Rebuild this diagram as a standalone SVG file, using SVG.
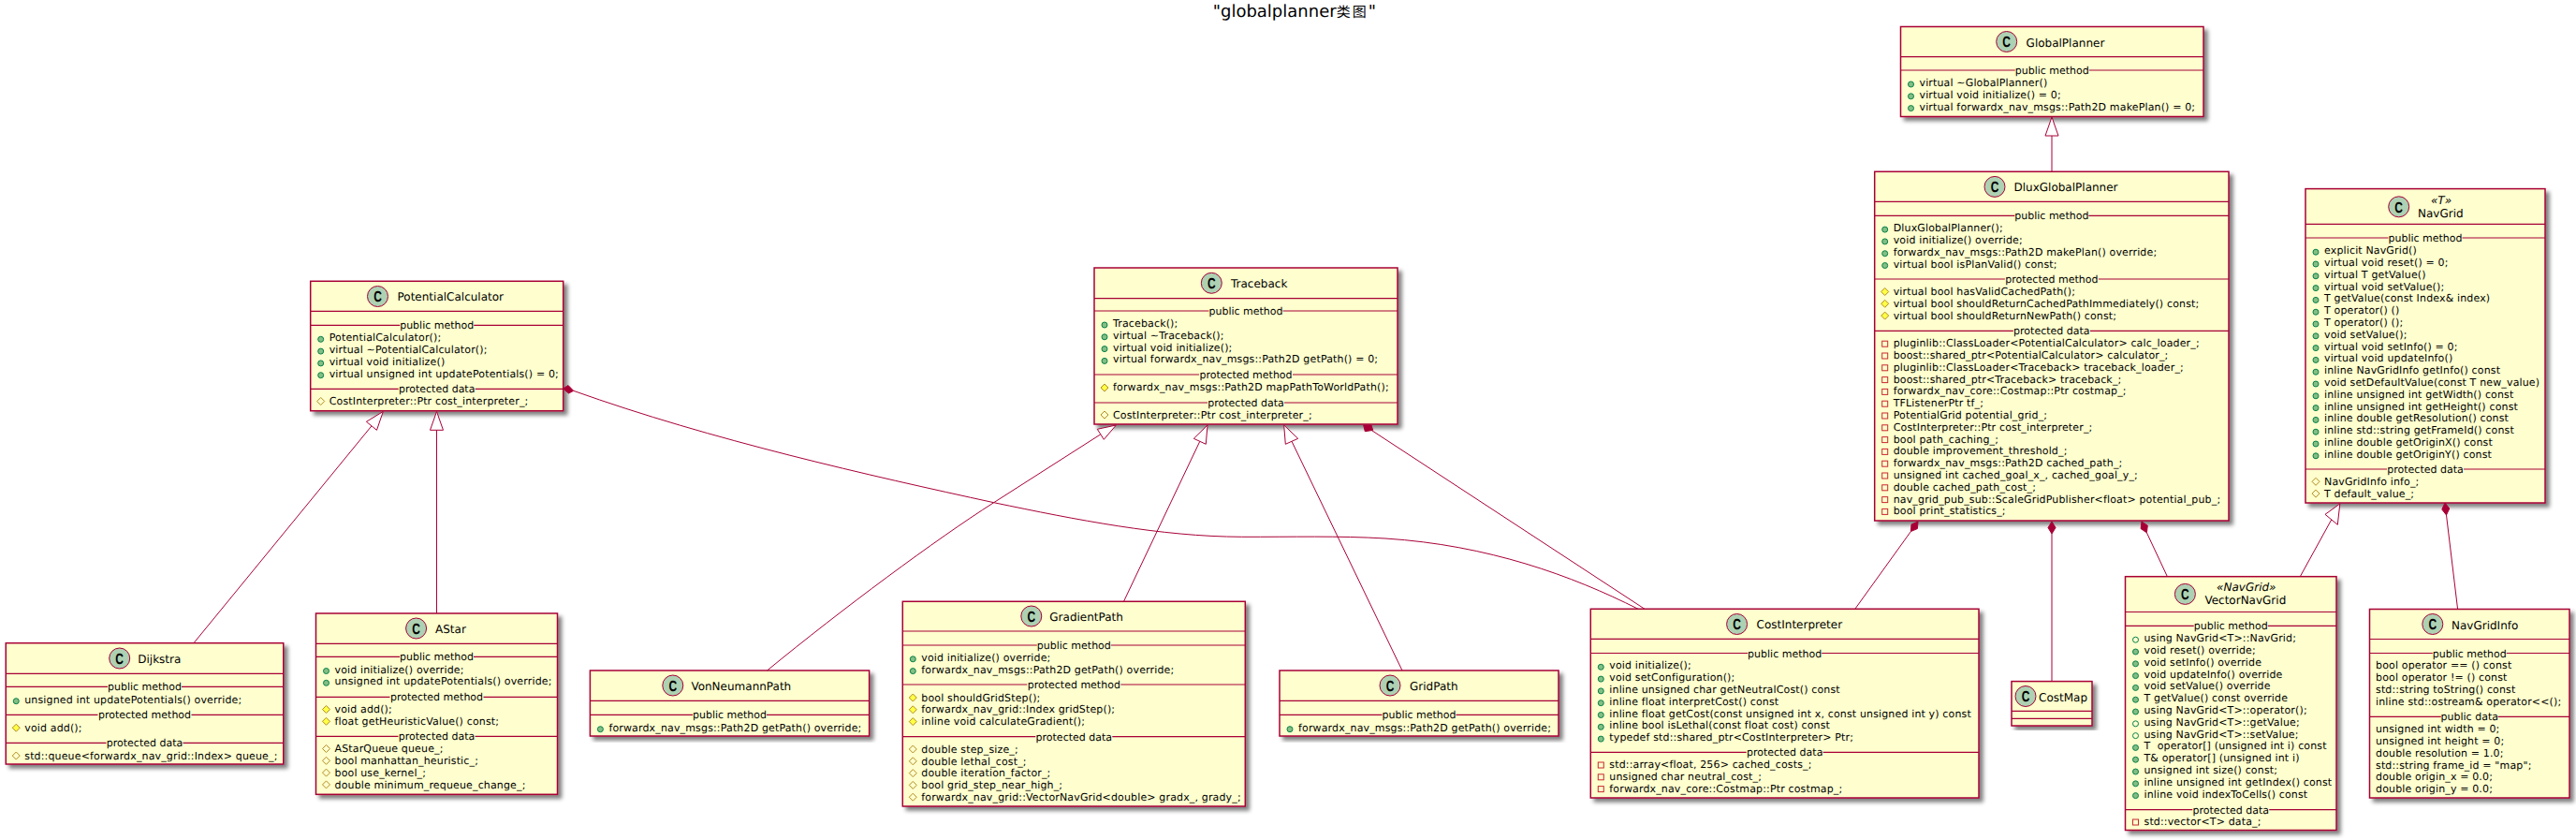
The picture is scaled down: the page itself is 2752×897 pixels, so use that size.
<svg xmlns="http://www.w3.org/2000/svg" width="2752" height="897" viewBox="0 0 2752 897">
<style>
text{font-family:"DejaVu Sans","Noto Sans CJK SC",sans-serif;fill:#000;text-rendering:geometricPrecision}
.m{font-size:11px;letter-spacing:.15px}
.c{font-size:11px;text-anchor:middle}
.t{font-size:12px}
.st{font-size:12px;font-style:italic;text-anchor:middle}
.b{fill:#FEFECE;stroke:#A80036;stroke-width:1.5;filter:url(#sh)}
.d{fill:none;stroke:#A80036;stroke-width:1.2}
.l{fill:none;stroke:#A80036;stroke-width:1}
.e{fill:#fff;stroke:#A80036;stroke-width:1}
.f{fill:#A80036;stroke:#A80036;stroke-width:1}
</style>
<defs>
<filter id="sh" x="-10%" y="-10%" width="120%" height="120%"><feGaussianBlur result="bl" stdDeviation="2"/><feColorMatrix type="matrix" values="0 0 0 0 0 0 0 0 0 0 0 0 0 0 0 0 0 0 .5 0"/><feOffset dx="4" dy="4"/><feBlend in="SourceGraphic"/></filter>
<g id="spot"><circle r="11" fill="#ADD1B2" stroke="#A80036" stroke-width="1"/><text transform="scale(.75,1)" y="5.8" font-size="16" font-weight="bold" text-anchor="middle" style="font-family:'Liberation Sans',sans-serif">C</text></g>
<circle id="pu" r="3" fill="#84BE84" stroke="#038048"/>
<circle id="po" r="3" fill="none" stroke="#038048"/>
<polygon id="pm" points="0,-4 4,0 0,4 -4,0" fill="#FFFF44" stroke="#B38D22"/>
<polygon id="pd" points="0,-4 4,0 0,4 -4,0" fill="none" stroke="#B38D22"/>
<rect id="pv" x="-3" y="-3" width="6" height="6" fill="none" stroke="#C82930"/>
</defs>
<rect width="2752" height="897" fill="#fff"/>
<text x="1295.7" y="17.5" font-size="18">"globalplanner<tspan font-size="15" letter-spacing="2">类图</tspan>"</text>

<g id="potentialcalculator" transform="translate(331.7 0)">
<rect class="b" y="300.3" width="270" height="138.4"/>
<path class="d" d="M0 332.3H270M0 347.3H95.5M174.5 347.3H270M0 415.3H94M176 415.3H270"/>
<use href="#spot" x="71.8" y="316.5"/><text class="t" x="92.8" y="321.3">PotentialCalculator</text>
<text class="c" x="135" y="351.3">public method</text>
<use href="#pu" x="11" y="362.3"/><text class="m" x="20" y="364.3">PotentialCalculator();</text>
<use href="#pu" x="11" y="375.1"/><text class="m" x="20" y="377.1">virtual ~PotentialCalculator();</text>
<use href="#pu" x="11" y="387.9"/><text class="m" x="20" y="389.9">virtual void initialize()</text>
<use href="#pu" x="11" y="400.7"/><text class="m" x="20" y="402.7">virtual unsigned int updatePotentials() = 0;</text>
<text class="c" x="135" y="419.3">protected data</text>
<use href="#pd" x="11" y="428.5"/><text class="m" x="20" y="432.3">CostInterpreter::Ptr cost_interpreter_;</text>
</g>

<g id="dijkstra" transform="translate(6.25 0)">
<rect class="b" y="686.7" width="296.5" height="129.3"/>
<path class="d" d="M0 719.3H296.5M0 733.3H108.75M187.75 733.3H296.5M0 763.3H98.25M198.25 763.3H296.5M0 793.3H107.25M189.25 793.3H296.5"/>
<use href="#spot" x="121.45" y="703"/><text class="t" x="141" y="707.7">Dijkstra</text>
<text class="c" x="148.25" y="737.3">public method</text>
<use href="#pu" x="11" y="748.7"/><text class="m" x="20" y="750.7">unsigned int updatePotentials() override;</text>
<text class="c" x="148.25" y="767.3">protected method</text>
<use href="#pm" x="11" y="777.2"/><text class="m" x="20" y="780.7">void add();</text>
<text class="c" x="148.25" y="797.3">protected data</text>
<use href="#pd" x="11" y="807"/><text class="m" x="20" y="810.7">std::queue&lt;forwardx_nav_grid::Index&gt; queue_;</text>
</g>

<g id="astar" transform="translate(337.5 0)">
<rect class="b" y="655" width="258" height="193.3"/>
<path class="d" d="M0 687.3H258M0 701.3H89.5M168.5 701.3H258M0 744.3H79M179 744.3H258M0 786.3H88M170 786.3H258"/>
<use href="#spot" x="107.1" y="671"/><text class="t" x="127.5" y="676">AStar</text>
<text class="c" x="129" y="705.3">public method</text>
<use href="#pu" x="11" y="716.5"/><text class="m" x="20" y="718.5">void initialize() override;</text>
<use href="#pu" x="11" y="729.3"/><text class="m" x="20" y="731.3">unsigned int updatePotentials() override;</text>
<text class="c" x="129" y="748.3">protected method</text>
<use href="#pm" x="11" y="757.5"/><text class="m" x="20" y="761">void add();</text>
<use href="#pm" x="11" y="770.3"/><text class="m" x="20" y="773.8">float getHeuristicValue() const;</text>
<text class="c" x="129" y="790.3">protected data</text>
<use href="#pd" x="11" y="799.5"/><text class="m" x="20" y="803.3">AStarQueue queue_;</text>
<use href="#pd" x="11" y="812.3"/><text class="m" x="20" y="816.1">bool manhattan_heuristic_;</text>
<use href="#pd" x="11" y="825.1"/><text class="m" x="20" y="828.9">bool use_kernel_;</text>
<use href="#pd" x="11" y="837.9"/><text class="m" x="20" y="841.7">double minimum_requeue_change_;</text>
</g>

<g id="traceback" transform="translate(1169 0)">
<rect class="b" y="286" width="324" height="167"/>
<path class="d" d="M0 318.7H324M0 332H122.5M201.5 332H324M0 400H112M212 400H324M0 430H121M203 430H324"/>
<use href="#spot" x="125.3" y="302.3"/><text class="t" x="146" y="307">Traceback</text>
<text class="c" x="162" y="336">public method</text>
<use href="#pu" x="11" y="347"/><text class="m" x="20" y="349">Traceback();</text>
<use href="#pu" x="11" y="359.8"/><text class="m" x="20" y="361.8">virtual ~Traceback();</text>
<use href="#pu" x="11" y="372.6"/><text class="m" x="20" y="374.6">virtual void initialize();</text>
<use href="#pu" x="11" y="385.4"/><text class="m" x="20" y="387.4">virtual forwardx_nav_msgs::Path2D getPath() = 0;</text>
<text class="c" x="162" y="404">protected method</text>
<use href="#pm" x="11" y="414"/><text class="m" x="20" y="417.2">forwardx_nav_msgs::Path2D mapPathToWorldPath();</text>
<text class="c" x="162" y="434">protected data</text>
<use href="#pd" x="11" y="443"/><text class="m" x="20" y="447">CostInterpreter::Ptr cost_interpreter_;</text>
</g>

<g id="vonneumannpath" transform="translate(630.4 0)">
<rect class="b" y="716" width="298.2" height="70"/>
<path class="d" d="M0 748.3H298.2M0 763.3H109.6M188.6 763.3H298.2"/>
<use href="#spot" x="88.4" y="732"/><text class="t" x="108" y="737">VonNeumannPath</text>
<text class="c" x="149.1" y="767.3">public method</text>
<use href="#pu" x="11" y="778.7"/><text class="m" x="20" y="780.7">forwardx_nav_msgs::Path2D getPath() override;</text>
</g>

<g id="gradientpath" transform="translate(964.3 0)">
<rect class="b" y="642.3" width="366" height="218.7"/>
<path class="d" d="M0 674H366M0 689H143.5M222.5 689H366M0 731H133M233 731H366M0 786.7H142M224 786.7H366"/>
<use href="#spot" x="137.5" y="658"/><text class="t" x="157" y="663">GradientPath</text>
<text class="c" x="183" y="693">public method</text>
<use href="#pu" x="11" y="703.8"/><text class="m" x="20" y="705.8">void initialize() override;</text>
<use href="#pu" x="11" y="716.6"/><text class="m" x="20" y="718.6">forwardx_nav_msgs::Path2D getPath() override;</text>
<text class="c" x="183" y="735">protected method</text>
<use href="#pm" x="11" y="745"/><text class="m" x="20" y="748.5">bool shouldGridStep();</text>
<use href="#pm" x="11" y="757.8"/><text class="m" x="20" y="761.3">forwardx_nav_grid::Index gridStep();</text>
<use href="#pm" x="11" y="770.6"/><text class="m" x="20" y="774.1">inline void calculateGradient();</text>
<text class="c" x="183" y="790.7">protected data</text>
<use href="#pd" x="11" y="800"/><text class="m" x="20" y="803.8">double step_size_;</text>
<use href="#pd" x="11" y="812.8"/><text class="m" x="20" y="816.6">double lethal_cost_;</text>
<use href="#pd" x="11" y="825.6"/><text class="m" x="20" y="829.4">double iteration_factor_;</text>
<use href="#pd" x="11" y="838.4"/><text class="m" x="20" y="842.2">bool grid_step_near_high_;</text>
<use href="#pd" x="11" y="851.2"/><text class="m" x="20" y="855">forwardx_nav_grid::VectorNavGrid&lt;double&gt; gradx_, grady_;</text>
</g>

<g id="gridpath" transform="translate(1367 0)">
<rect class="b" y="716" width="298" height="70"/>
<path class="d" d="M0 748.3H298M0 763.3H109.5M188.5 763.3H298"/>
<use href="#spot" x="118" y="732"/><text class="t" x="139" y="737">GridPath</text>
<text class="c" x="149" y="767.3">public method</text>
<use href="#pu" x="11" y="778.7"/><text class="m" x="20" y="780.7">forwardx_nav_msgs::Path2D getPath() override;</text>
</g>

<g id="costinterpreter" transform="translate(1699.3 0)">
<rect class="b" y="650.3" width="414.7" height="201.7"/>
<path class="d" d="M0 682.3H414.7M0 697.5H167.85M246.85 697.5H414.7M0 803.3H166.35M248.35 803.3H414.7"/>
<use href="#spot" x="156.3" y="666.5"/><text class="t" x="177.3" y="671.3">CostInterpreter</text>
<text class="c" x="207.35" y="701.5">public method</text>
<use href="#pu" x="11" y="712.3"/><text class="m" x="20" y="714.3">void initialize();</text>
<use href="#pu" x="11" y="725.1"/><text class="m" x="20" y="727.1">void setConfiguration();</text>
<use href="#pu" x="11" y="737.9"/><text class="m" x="20" y="739.9">inline unsigned char getNeutralCost() const</text>
<use href="#pu" x="11" y="750.7"/><text class="m" x="20" y="752.7">inline float interpretCost() const</text>
<use href="#pu" x="11" y="763.5"/><text class="m" x="20" y="765.5">inline float getCost(const unsigned int x, const unsigned int y) const</text>
<use href="#pu" x="11" y="776.3"/><text class="m" x="20" y="778.3">inline bool isLethal(const float cost) const</text>
<use href="#pu" x="11" y="789.1"/><text class="m" x="20" y="791.1">typedef std::shared_ptr&lt;CostInterpreter&gt; Ptr;</text>
<text class="c" x="207.35" y="807.3">protected data</text>
<use href="#pv" x="11" y="817"/><text class="m" x="20" y="820">std::array&lt;float, 256&gt; cached_costs_;</text>
<use href="#pv" x="11" y="829.8"/><text class="m" x="20" y="832.8">unsigned char neutral_cost_;</text>
<use href="#pv" x="11" y="842.6"/><text class="m" x="20" y="845.6">forwardx_nav_core::Costmap::Ptr costmap_;</text>
</g>

<g id="costmap" transform="translate(2149 0)">
<rect class="b" y="727.6" width="86" height="47.4"/>
<path class="d" d="M0 759.4H86M0 767.3H86"/>
<use href="#spot" x="15" y="743.5"/><text class="t" x="29" y="748.5">CostMap</text>
</g>

<g id="globalplanner" transform="translate(2030.5 0)">
<rect class="b" y="28.5" width="323.5" height="96"/>
<path class="d" d="M0 60.7H323.5M0 75H122.25M201.25 75H323.5"/>
<use href="#spot" x="113.2" y="44.5"/><text class="t" x="134.1" y="49.5">GlobalPlanner</text>
<text class="c" x="161.75" y="79">public method</text>
<use href="#pu" x="11" y="90"/><text class="m" x="20" y="92">virtual ~GlobalPlanner()</text>
<use href="#pu" x="11" y="102.8"/><text class="m" x="20" y="104.8">virtual void initialize() = 0;</text>
<use href="#pu" x="11" y="115.6"/><text class="m" x="20" y="117.6">virtual forwardx_nav_msgs::Path2D makePlan() = 0;</text>
</g>

<g id="dluxglobalplanner" transform="translate(2002.7 0)">
<rect class="b" y="183.3" width="378.3" height="372.7"/>
<path class="d" d="M0 215.3H378.3M0 230.3H149.65M228.65 230.3H378.3M0 298H139.15M239.15 298H378.3M0 353.3H148.15M230.15 353.3H378.3"/>
<use href="#spot" x="128.3" y="199.4"/><text class="t" x="148.8" y="204.4">DluxGlobalPlanner</text>
<text class="c" x="189.15" y="234.3">public method</text>
<use href="#pu" x="11" y="245.1"/><text class="m" x="20" y="247.1">DluxGlobalPlanner();</text>
<use href="#pu" x="11" y="257.9"/><text class="m" x="20" y="259.9">void initialize() override;</text>
<use href="#pu" x="11" y="270.7"/><text class="m" x="20" y="272.7">forwardx_nav_msgs::Path2D makePlan() override;</text>
<use href="#pu" x="11" y="283.5"/><text class="m" x="20" y="285.5">virtual bool isPlanValid() const;</text>
<text class="c" x="189.15" y="302">protected method</text>
<use href="#pm" x="11" y="311.5"/><text class="m" x="20" y="315">virtual bool hasValidCachedPath();</text>
<use href="#pm" x="11" y="324.3"/><text class="m" x="20" y="327.8">virtual bool shouldReturnCachedPathImmediately() const;</text>
<use href="#pm" x="11" y="337.1"/><text class="m" x="20" y="340.6">virtual bool shouldReturnNewPath() const;</text>
<text class="c" x="189.15" y="357.3">protected data</text>
<use href="#pv" x="11" y="367.2"/><text class="m" x="20" y="370.2">pluginlib::ClassLoader&lt;PotentialCalculator&gt; calc_loader_;</text>
<use href="#pv" x="11" y="380"/><text class="m" x="20" y="383">boost::shared_ptr&lt;PotentialCalculator&gt; calculator_;</text>
<use href="#pv" x="11" y="392.8"/><text class="m" x="20" y="395.8">pluginlib::ClassLoader&lt;Traceback&gt; traceback_loader_;</text>
<use href="#pv" x="11" y="405.6"/><text class="m" x="20" y="408.6">boost::shared_ptr&lt;Traceback&gt; traceback_;</text>
<use href="#pv" x="11" y="418.4"/><text class="m" x="20" y="421.4">forwardx_nav_core::Costmap::Ptr costmap_;</text>
<use href="#pv" x="11" y="431.2"/><text class="m" x="20" y="434.2">TFListenerPtr tf_;</text>
<use href="#pv" x="11" y="444"/><text class="m" x="20" y="447">PotentialGrid potential_grid_;</text>
<use href="#pv" x="11" y="456.8"/><text class="m" x="20" y="459.8">CostInterpreter::Ptr cost_interpreter_;</text>
<use href="#pv" x="11" y="469.6"/><text class="m" x="20" y="472.6">bool path_caching_;</text>
<use href="#pv" x="11" y="482.4"/><text class="m" x="20" y="485.4">double improvement_threshold_;</text>
<use href="#pv" x="11" y="495.2"/><text class="m" x="20" y="498.2">forwardx_nav_msgs::Path2D cached_path_;</text>
<use href="#pv" x="11" y="508"/><text class="m" x="20" y="511">unsigned int cached_goal_x_, cached_goal_y_;</text>
<use href="#pv" x="11" y="520.8"/><text class="m" x="20" y="523.8">double cached_path_cost_;</text>
<use href="#pv" x="11" y="533.6"/><text class="m" x="20" y="536.6">nav_grid_pub_sub::ScaleGridPublisher&lt;float&gt; potential_pub_;</text>
<use href="#pv" x="11" y="546.4"/><text class="m" x="20" y="549.4">bool print_statistics_;</text>
</g>

<g id="navgrid" transform="translate(2463 0)">
<rect class="b" y="201.6" width="256" height="335.4"/>
<path class="d" d="M0 239.4H256M0 254H88.5M167.5 254H256M0 501H87M169 501H256"/>
<use href="#spot" x="99.7" y="220.8"/><text class="st" x="145" y="217.6">«T»</text><text class="t" x="120" y="231.5">NavGrid</text>
<text class="c" x="128" y="258">public method</text>
<use href="#pu" x="11" y="269.2"/><text class="m" x="20" y="271.2">explicit NavGrid()</text>
<use href="#pu" x="11" y="282"/><text class="m" x="20" y="284">virtual void reset() = 0;</text>
<use href="#pu" x="11" y="294.8"/><text class="m" x="20" y="296.8">virtual T getValue()</text>
<use href="#pu" x="11" y="307.6"/><text class="m" x="20" y="309.6">virtual void setValue();</text>
<use href="#pu" x="11" y="320.4"/><text class="m" x="20" y="322.4">T getValue(const Index&amp; index)</text>
<use href="#pu" x="11" y="333.2"/><text class="m" x="20" y="335.2">T operator() ()</text>
<use href="#pu" x="11" y="346"/><text class="m" x="20" y="348">T operator() ();</text>
<use href="#pu" x="11" y="358.8"/><text class="m" x="20" y="360.8">void setValue();</text>
<use href="#pu" x="11" y="371.6"/><text class="m" x="20" y="373.6">virtual void setInfo() = 0;</text>
<use href="#pu" x="11" y="384.4"/><text class="m" x="20" y="386.4">virtual void updateInfo()</text>
<use href="#pu" x="11" y="397.2"/><text class="m" x="20" y="399.2">inline NavGridInfo getInfo() const</text>
<use href="#pu" x="11" y="410"/><text class="m" x="20" y="412">void setDefaultValue(const T new_value)</text>
<use href="#pu" x="11" y="422.8"/><text class="m" x="20" y="424.8">inline unsigned int getWidth() const</text>
<use href="#pu" x="11" y="435.6"/><text class="m" x="20" y="437.6">inline unsigned int getHeight() const</text>
<use href="#pu" x="11" y="448.4"/><text class="m" x="20" y="450.4">inline double getResolution() const</text>
<use href="#pu" x="11" y="461.2"/><text class="m" x="20" y="463.2">inline std::string getFrameId() const</text>
<use href="#pu" x="11" y="474"/><text class="m" x="20" y="476">inline double getOriginX() const</text>
<use href="#pu" x="11" y="486.8"/><text class="m" x="20" y="488.8">inline double getOriginY() const</text>
<text class="c" x="128" y="505">protected data</text>
<use href="#pd" x="11" y="514.3"/><text class="m" x="20" y="518">NavGridInfo info_;</text>
<use href="#pd" x="11" y="527.1"/><text class="m" x="20" y="530.8">T default_value_;</text>
</g>

<g id="vectornavgrid" transform="translate(2270.5 0)">
<rect class="b" y="615.7" width="225.5" height="270.8"/>
<path class="d" d="M0 653.5H225.5M0 668.4H73.25M152.25 668.4H225.5M0 864.7H71.75M153.75 864.7H225.5"/>
<use href="#spot" x="63.9" y="634.4"/><text class="st" x="129.3" y="631">«NavGrid»</text><text class="t" x="84.9" y="645.3">VectorNavGrid</text>
<text class="c" x="112.75" y="672.4">public method</text>
<use href="#po" x="11" y="683.2"/><text class="m" x="20" y="685.2">using NavGrid&lt;T&gt;::NavGrid;</text>
<use href="#pu" x="11" y="696"/><text class="m" x="20" y="698">void reset() override;</text>
<use href="#pu" x="11" y="708.8"/><text class="m" x="20" y="710.8">void setInfo() override</text>
<use href="#pu" x="11" y="721.6"/><text class="m" x="20" y="723.6">void updateInfo() override</text>
<use href="#pu" x="11" y="734.4"/><text class="m" x="20" y="736.4">void setValue() override</text>
<use href="#pu" x="11" y="747.2"/><text class="m" x="20" y="749.2">T getValue() const override</text>
<use href="#pu" x="11" y="760"/><text class="m" x="20" y="762">using NavGrid&lt;T&gt;::operator();</text>
<use href="#po" x="11" y="772.8"/><text class="m" x="20" y="774.8">using NavGrid&lt;T&gt;::getValue;</text>
<use href="#po" x="11" y="785.6"/><text class="m" x="20" y="787.6">using NavGrid&lt;T&gt;::setValue;</text>
<use href="#pu" x="11" y="798.4"/><text class="m" x="20" y="800.4" xml:space="preserve">T  operator[] (unsigned int i) const</text>
<use href="#pu" x="11" y="811.2"/><text class="m" x="20" y="813.2">T&amp; operator[] (unsigned int i)</text>
<use href="#pu" x="11" y="824"/><text class="m" x="20" y="826">unsigned int size() const;</text>
<use href="#pu" x="11" y="836.8"/><text class="m" x="20" y="838.8">inline unsigned int getIndex() const</text>
<use href="#pu" x="11" y="849.6"/><text class="m" x="20" y="851.6">inline void indexToCells() const</text>
<text class="c" x="112.75" y="868.7">protected data</text>
<use href="#pv" x="11" y="878"/><text class="m" x="20" y="881">std::vector&lt;T&gt; data_;</text>
</g>

<g id="navgridinfo" transform="translate(2531.5 0)">
<rect class="b" y="650.5" width="213.5" height="201.5"/>
<path class="d" d="M0 682.5H213.5M0 697.5H67.25M146.25 697.5H213.5M0 765.4H76.25M137.25 765.4H213.5"/>
<use href="#spot" x="67.3" y="666.5"/><text class="t" x="87.5" y="671.5">NavGridInfo</text>
<text class="c" x="106.75" y="701.5">public method</text>
<text class="m" x="6.5" y="714.3">bool operator == () const</text>
<text class="m" x="6.5" y="727.1">bool operator != () const</text>
<text class="m" x="6.5" y="739.9">std::string toString() const</text>
<text class="m" x="6.5" y="752.7">inline std::ostream&amp; operator&lt;&lt;();</text>
<text class="c" x="106.75" y="769.4">public data</text>
<text class="m" x="6.5" y="782.2">unsigned int width = 0;</text>
<text class="m" x="6.5" y="795">unsigned int height = 0;</text>
<text class="m" x="6.5" y="807.8">double resolution = 1.0;</text>
<text class="m" x="6.5" y="820.6">std::string frame_id = "map";</text>
<text class="m" x="6.5" y="833.4">double origin_x = 0.0;</text>
<text class="m" x="6.5" y="846.2">double origin_y = 0.0;</text>
</g>

<g id="connectors">
<path class="l" d="M2192 145V183"/><polygon class="e" points="2192,125 2185,145 2199,145"/>
<path class="l" d="M2041.4 567.5L1982 650"/><polygon class="f" points="2049,557 2048.4,564.6 2041.4,567.5 2042,560"/>
<path class="l" d="M2192 570V727.6"/><polygon class="f" points="2192,557 2196,563.5 2192,570 2188,563.5"/>
<path class="l" d="M2293.4 568.8L2315.4 615.7"/><polygon class="f" points="2288,557 2294.3,561.2 2293.4,568.8 2287.1,564.6"/>
<path class="l" d="M2490.7 555L2457.3 615.7"/><polygon class="e" points="2499.8,538 2497.3,560.3 2484,549.3"/>
<path class="l" d="M2613.5 550L2625.6 650.5"/><polygon class="f" points="2612,537 2616.8,543 2613.5,550 2608.8,544"/>
<path class="l" d="M397 454.8L207 686.7"/><polygon class="e" points="409.3,439.5 402.5,459.3 391.4,450.3"/>
<path class="l" d="M466.5 459.3V655"/><polygon class="e" points="466.5,439.5 473.5,459.3 459.5,459.3"/>
<path class="l" d="M612.7 417.3C760 470 930 508 1061.7 536.7C1150 555 1240 573 1326.7 573.3C1380 573.5 1430 572 1480 575C1590 582 1680 615 1750 650.3"/><polygon class="f" points="601.7,415 607,411.5 612.7,417.3 607.5,420"/>
<path class="l" d="M1175.8 463.8L1061.7 536.7C1000 576 900 650 819.6 716"/><polygon class="e" points="1192.3,454 1179.3,469.3 1172.3,458.3"/>
<path class="l" d="M1281.8 471.3L1200.5 642.3"/><polygon class="e" points="1290,454 1288.3,474.3 1275.3,468.3"/>
<path class="l" d="M1380 471.3L1498 716"/><polygon class="e" points="1371.7,454 1386.7,468.3 1373.3,474.3"/>
<path class="l" d="M1465 459.3L1757 650.3"/><polygon class="f" points="1456.7,454 1465,454 1466.7,459.3 1458.3,460.7"/>
</g>
</svg>
